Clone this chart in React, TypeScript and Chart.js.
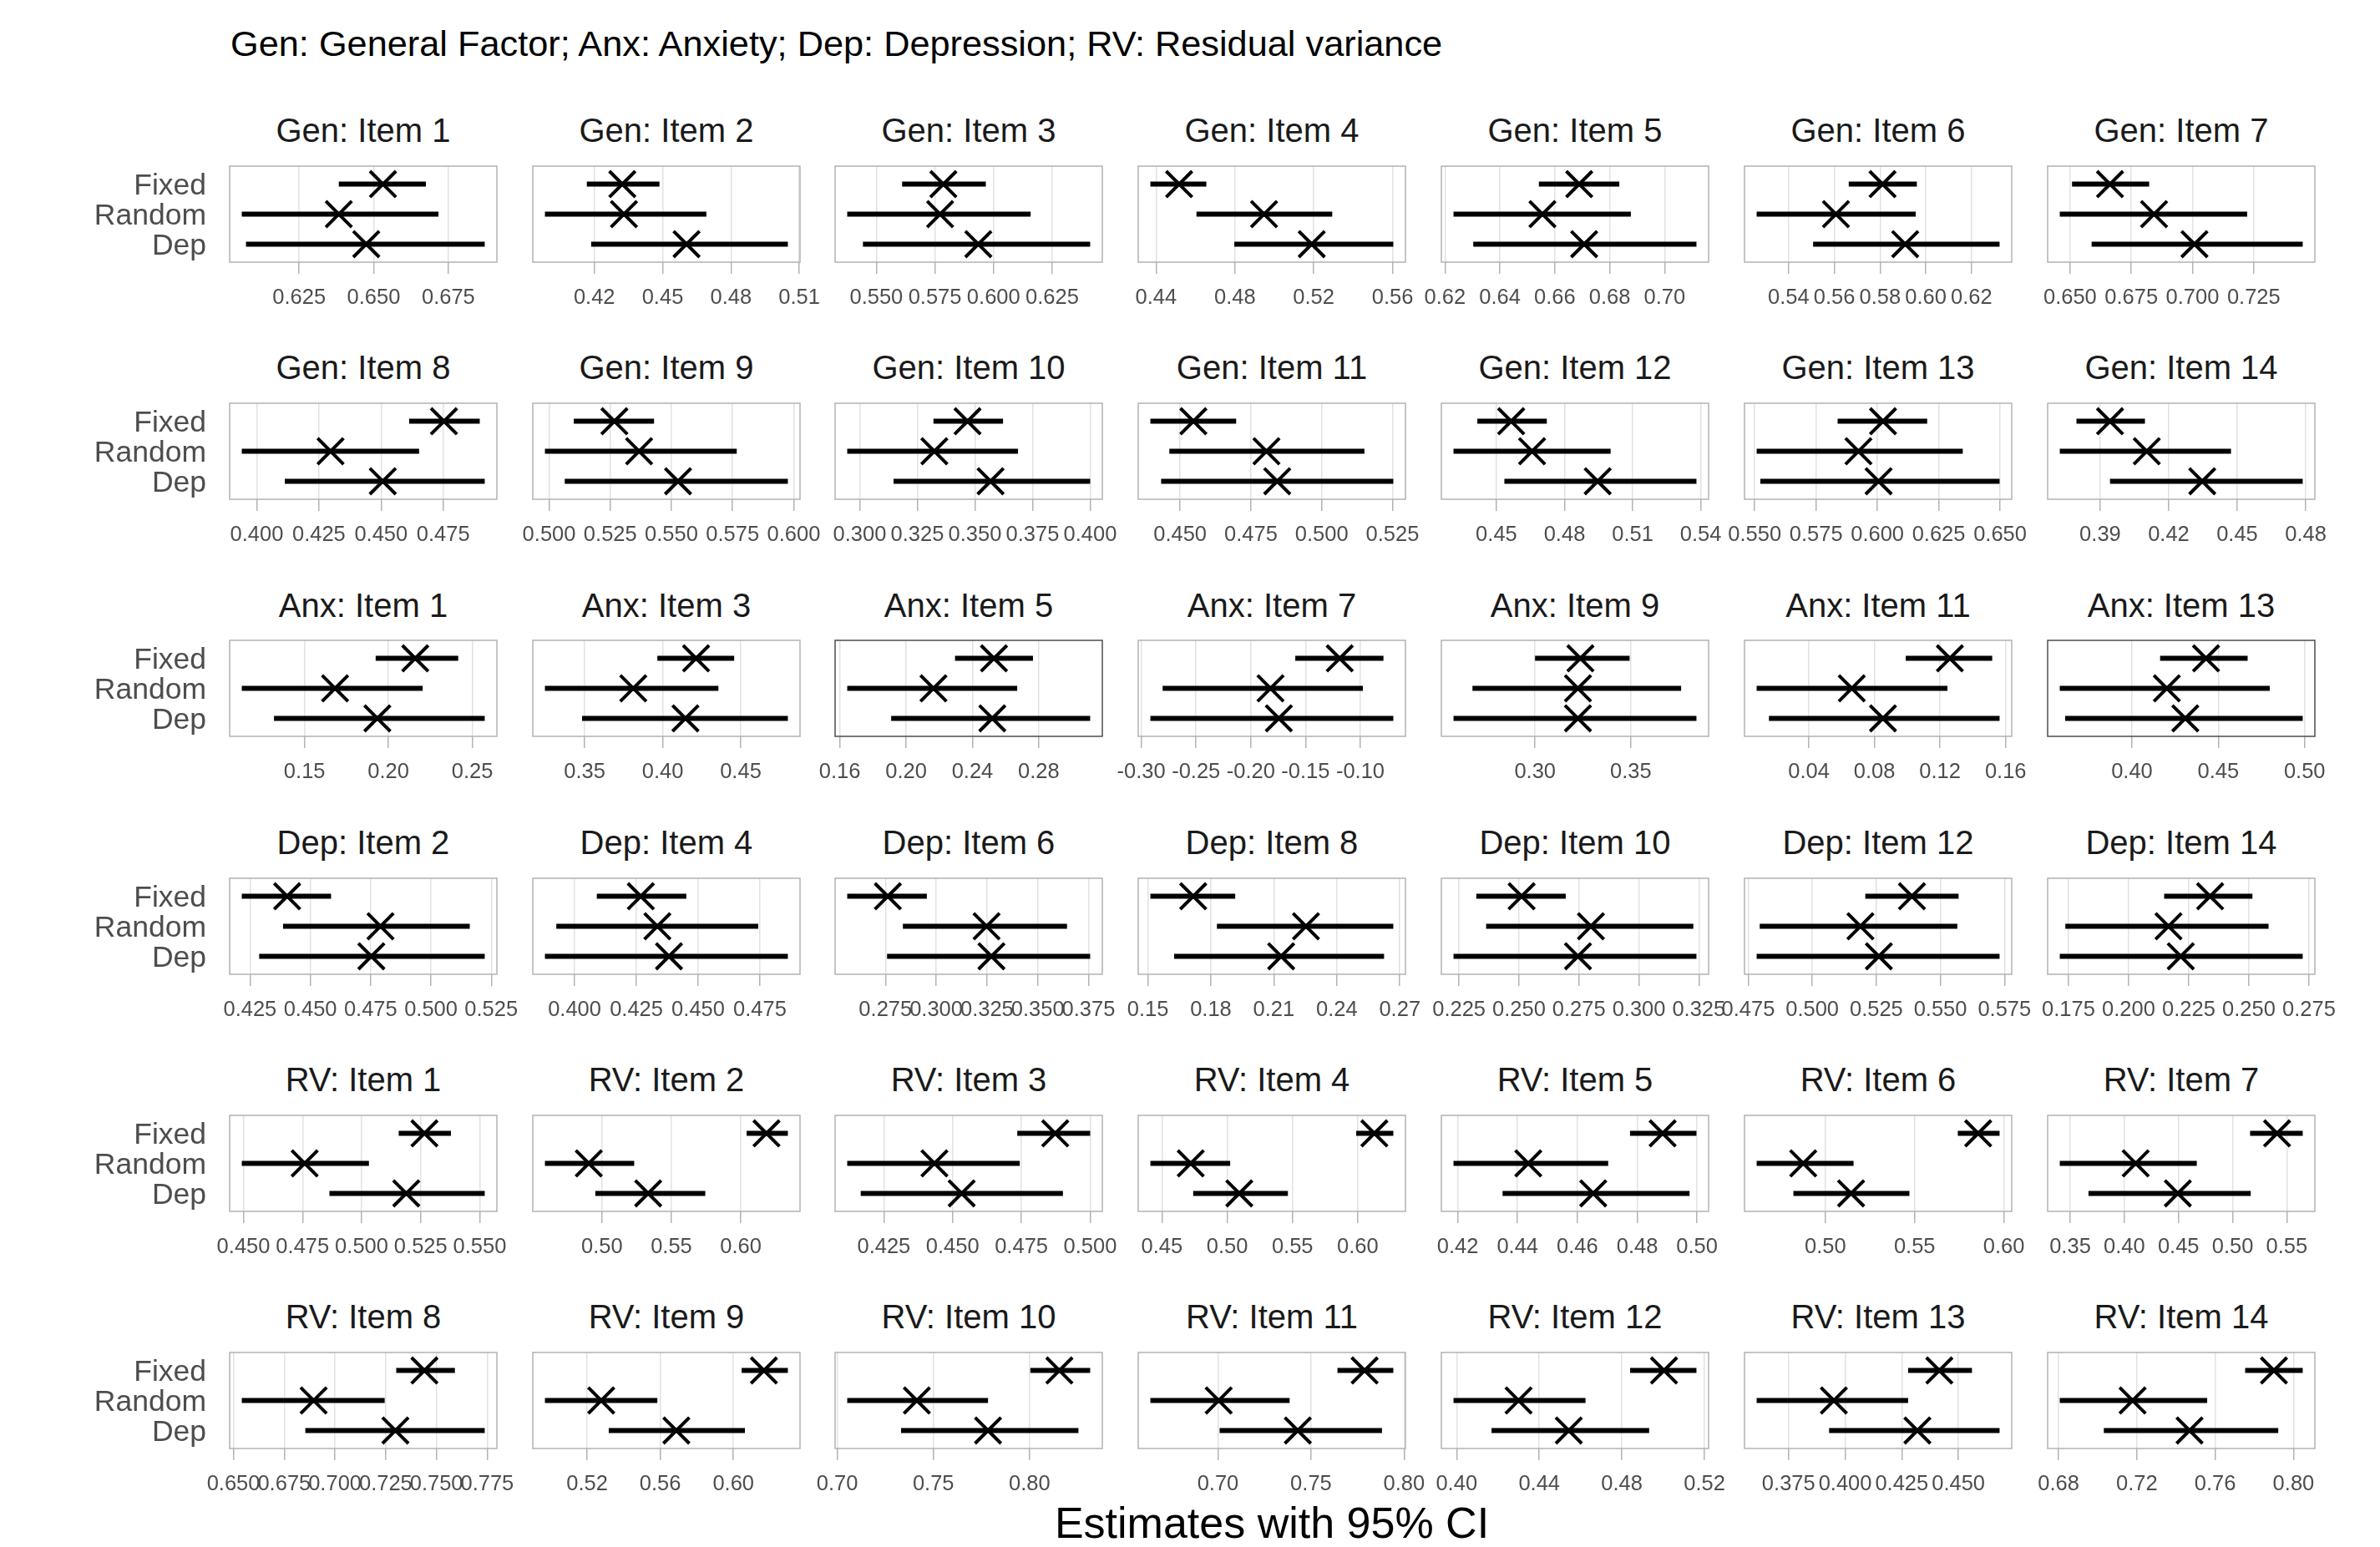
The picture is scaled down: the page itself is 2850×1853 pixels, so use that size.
import React, { useEffect, useRef } from "react";
import { Chart, registerables } from "chart.js";

Chart.register(...registerables);

// ---------------- DATA ----------------
const caption = "Gen: General Factor; Anx: Anxiety; Dep: Depression; RV: Residual variance";
const xAxisTitle = "Estimates with 95% CI";
const methods = ["Fixed", "Random", "Dep"];

const panelTitles = [
  "Gen: Item 1", "Gen: Item 2", "Gen: Item 3", "Gen: Item 4", "Gen: Item 5", "Gen: Item 6", "Gen: Item 7",
  "Gen: Item 8", "Gen: Item 9", "Gen: Item 10", "Gen: Item 11", "Gen: Item 12", "Gen: Item 13", "Gen: Item 14",
  "Anx: Item 1", "Anx: Item 3", "Anx: Item 5", "Anx: Item 7", "Anx: Item 9", "Anx: Item 11", "Anx: Item 13",
  "Dep: Item 2", "Dep: Item 4", "Dep: Item 6", "Dep: Item 8", "Dep: Item 10", "Dep: Item 12", "Dep: Item 14",
  "RV: Item 1", "RV: Item 2", "RV: Item 3", "RV: Item 4", "RV: Item 5", "RV: Item 6", "RV: Item 7",
  "RV: Item 8", "RV: Item 9", "RV: Item 10", "RV: Item 11", "RV: Item 12", "RV: Item 13", "RV: Item 14",
];

const fixedLo = [
  0.6383, 0.4167, 0.5610, 0.4371, 0.6542, 0.5663, 0.6508,
  0.4613, 0.5101, 0.3320, 0.4395, 0.4416, 0.5838, 0.3796,
  0.1924, 0.3966, 0.2295, -0.1594, 0.3000, 0.0991, 0.4163,
  0.4216, 0.4090, 0.2562, 0.1512, 0.2322, 0.5207, 0.2148,
  0.5157, 0.6042, 0.4735, 0.5988, 0.4776, 0.5742, 0.5161,
  0.7302, 0.6045, 0.8004, 0.7642, 0.4840, 0.4278, 0.7753,
];
const fixedEst = [
  0.6531, 0.4323, 0.5786, 0.4517, 0.6689, 0.5811, 0.6663,
  0.4753, 0.5267, 0.3468, 0.4547, 0.4565, 0.6023, 0.3943,
  0.2160, 0.4214, 0.2530, -0.1188, 0.3237, 0.1260, 0.4429,
  0.4404, 0.4268, 0.2762, 0.1716, 0.2511, 0.5389, 0.2339,
  0.5266, 0.6185, 0.4873, 0.6127, 0.4885, 0.5856, 0.5410,
  0.7441, 0.6167, 0.8155, 0.7788, 0.5004, 0.4416, 0.7900,
];
const fixedHi = [
  0.6675, 0.4486, 0.5967, 0.4655, 0.6835, 0.5961, 0.6823,
  0.4897, 0.5429, 0.3622, 0.4698, 0.4722, 0.6203, 0.4096,
  0.2416, 0.4458, 0.2765, -0.0789, 0.3494, 0.1518, 0.4670,
  0.4586, 0.4452, 0.2954, 0.1916, 0.2695, 0.5571, 0.2515,
  0.5378, 0.6339, 0.5000, 0.6272, 0.4998, 0.5976, 0.5647,
  0.7591, 0.6298, 0.8315, 0.7942, 0.5161, 0.4560, 0.8047,
];

const randomLo = [
  0.6058, 0.3983, 0.5376, 0.4605, 0.6231, 0.5260, 0.6458,
  0.3940, 0.4983, 0.2946, 0.4462, 0.4311, 0.5508, 0.3723,
  0.1126, 0.3246, 0.1645, -0.2805, 0.2673, 0.0082, 0.3582,
  0.4387, 0.3926, 0.2836, 0.1829, 0.2363, 0.4795, 0.1737,
  0.4493, 0.4589, 0.4117, 0.4412, 0.4186, 0.4615, 0.3404,
  0.6541, 0.4969, 0.7052, 0.6637, 0.3985, 0.3609, 0.6806,
];
const randomEst = [
  0.6383, 0.4330, 0.5772, 0.4948, 0.6555, 0.5607, 0.6843,
  0.4297, 0.5368, 0.3324, 0.4805, 0.4657, 0.5923, 0.4104,
  0.1682, 0.3812, 0.2165, -0.1820, 0.3224, 0.0662, 0.4202,
  0.4791, 0.4335, 0.3248, 0.2253, 0.2800, 0.5188, 0.2166,
  0.4759, 0.4905, 0.4434, 0.4721, 0.4436, 0.4876, 0.4105,
  0.6895, 0.5277, 0.7414, 0.7004, 0.4300, 0.3950, 0.7178,
];
const randomHi = [
  0.6717, 0.4692, 0.6158, 0.5294, 0.6877, 0.5956, 0.7223,
  0.4653, 0.5767, 0.3687, 0.5151, 0.5003, 0.6348, 0.4473,
  0.2204, 0.4357, 0.2670, -0.0977, 0.3763, 0.1245, 0.4798,
  0.5161, 0.4743, 0.3644, 0.2669, 0.3227, 0.5566, 0.2582,
  0.5031, 0.5232, 0.4744, 0.5023, 0.4703, 0.5158, 0.4669,
  0.7245, 0.5584, 0.7784, 0.7385, 0.4624, 0.4278, 0.7559,
];

const depLo = [
  0.6072, 0.4186, 0.5443, 0.4797, 0.6303, 0.5507, 0.6588,
  0.4113, 0.5064, 0.3147, 0.4433, 0.4535, 0.5523, 0.3943,
  0.1318, 0.3484, 0.1910, -0.2917, 0.2574, 0.0157, 0.3613,
  0.4288, 0.3880, 0.2758, 0.1625, 0.2227, 0.4783, 0.1714,
  0.4864, 0.4952, 0.4166, 0.4740, 0.4350, 0.4821, 0.3669,
  0.6854, 0.5318, 0.7332, 0.7009, 0.4169, 0.3929, 0.7031,
];
const depEst = [
  0.6475, 0.4605, 0.5935, 0.5190, 0.6707, 0.5910, 0.7008,
  0.4507, 0.5527, 0.3568, 0.4843, 0.4946, 0.6005, 0.4347,
  0.1934, 0.4146, 0.2520, -0.1744, 0.3224, 0.0852, 0.4309,
  0.4753, 0.4382, 0.3272, 0.2135, 0.2746, 0.5260, 0.2217,
  0.5189, 0.5333, 0.4533, 0.5093, 0.4653, 0.5144, 0.4494,
  0.7298, 0.5688, 0.7784, 0.7429, 0.4543, 0.4319, 0.7469,
];
const depHi = [
  0.6872, 0.5050, 0.6412, 0.5604, 0.7116, 0.6323, 0.7450,
  0.4917, 0.5976, 0.4000, 0.5253, 0.5381, 0.6498, 0.4787,
  0.2574, 0.4802, 0.3110, -0.0699, 0.3843, 0.1563, 0.4989,
  0.5223, 0.4863, 0.3758, 0.2625, 0.3240, 0.5731, 0.2724,
  0.5521, 0.5744, 0.4901, 0.5465, 0.4975, 0.5471, 0.5167,
  0.7738, 0.6063, 0.8254, 0.7881, 0.4932, 0.4682, 0.7922,
];

const tickLabels: string[][] = [
  ["0.625", "0.650", "0.675"], ["0.42", "0.45", "0.48", "0.51"], ["0.550", "0.575", "0.600", "0.625"],
  ["0.44", "0.48", "0.52", "0.56"], ["0.62", "0.64", "0.66", "0.68", "0.70"], ["0.54", "0.56", "0.58", "0.60", "0.62"],
  ["0.650", "0.675", "0.700", "0.725"],
  ["0.400", "0.425", "0.450", "0.475"], ["0.500", "0.525", "0.550", "0.575", "0.600"],
  ["0.300", "0.325", "0.350", "0.375", "0.400"], ["0.450", "0.475", "0.500", "0.525"],
  ["0.45", "0.48", "0.51", "0.54"], ["0.550", "0.575", "0.600", "0.625", "0.650"], ["0.39", "0.42", "0.45", "0.48"],
  ["0.15", "0.20", "0.25"], ["0.35", "0.40", "0.45"], ["0.16", "0.20", "0.24", "0.28"],
  ["-0.30", "-0.25", "-0.20", "-0.15", "-0.10"], ["0.30", "0.35"], ["0.04", "0.08", "0.12", "0.16"],
  ["0.40", "0.45", "0.50"],
  ["0.425", "0.450", "0.475", "0.500", "0.525"], ["0.400", "0.425", "0.450", "0.475"],
  ["0.275", "0.300", "0.325", "0.350", "0.375"], ["0.15", "0.18", "0.21", "0.24", "0.27"],
  ["0.225", "0.250", "0.275", "0.300", "0.325"], ["0.475", "0.500", "0.525", "0.550", "0.575"],
  ["0.175", "0.200", "0.225", "0.250", "0.275"],
  ["0.450", "0.475", "0.500", "0.525", "0.550"], ["0.50", "0.55", "0.60"], ["0.425", "0.450", "0.475", "0.500"],
  ["0.45", "0.50", "0.55", "0.60"], ["0.42", "0.44", "0.46", "0.48", "0.50"], ["0.50", "0.55", "0.60"],
  ["0.35", "0.40", "0.45", "0.50", "0.55"],
  ["0.650", "0.675", "0.700", "0.725", "0.750", "0.775"], ["0.52", "0.56", "0.60"], ["0.70", "0.75", "0.80"],
  ["0.70", "0.75", "0.80"], ["0.40", "0.44", "0.48", "0.52"], ["0.375", "0.400", "0.425", "0.450"],
  ["0.68", "0.72", "0.76", "0.80"],
];

const darkBorderPanels = ["Anx: Item 5", "Anx: Item 13"];

// ---------------- LAYOUT / STYLE ----------------
const FONT = '"Liberation Sans", Arial, Helvetica, sans-serif';
const NCOL = 7;
const PANEL_LEFT0 = 274.6;
const PITCH_X = 362.9;
const PANEL_TOP0 = 198.7;
const PITCH_Y = 284.3;
const PANEL_W = 320;
const PANEL_H = 115;
const PAD_SIDE = 48;
const PAD_TOP = 4;
const X_AXIS_H = 76;
const Y_AXIS_W = 250;

const colLeft = (c: number) => Math.round(PANEL_LEFT0 + c * PITCH_X);
const rowTop = (r: number) => Math.round(PANEL_TOP0 + r * PITCH_Y);

const boxPlugin = {
  id: "panelBox",
  afterDraw(chart: any, _args: any, opts: any) {
    const { ctx, chartArea: a } = chart;
    ctx.save();
    ctx.strokeStyle = opts.color;
    ctx.lineWidth = opts.width;
    ctx.strokeRect(a.left, a.top, a.right - a.left, a.bottom - a.top);
    ctx.restore();
  },
};

function Panel({ index }: { index: number }) {
  const ref = useRef<HTMLCanvasElement>(null);
  const col = index % NCOL;
  const row = Math.floor(index / NCOL);
  const yW = col === 0 ? Y_AXIS_W : 0;
  const cw = PAD_SIDE * 2 + yW + PANEL_W;
  const ch = PAD_TOP + PANEL_H + X_AXIS_H;
  const left = colLeft(col) - PAD_SIDE - yW;
  const top = rowTop(row) - PAD_TOP;

  useEffect(() => {
    if (!ref.current) return;
    const lo = [fixedLo[index], randomLo[index], depLo[index]];
    const hi = [fixedHi[index], randomHi[index], depHi[index]];
    const est = [fixedEst[index], randomEst[index], depEst[index]];
    const dmin = Math.min(...lo, ...est);
    const dmax = Math.max(...hi, ...est);
    const span = dmax - dmin;
    const xmin = dmin - 0.05 * span;
    const xmax = dmax + 0.05 * span;
    const labels = tickLabels[index];
    const yPos = (i: number) => methods.length - i; // Fixed=3, Random=2, Dep=1

    const intervalSets = methods.map((m, i) => ({
      label: m,
      data: [
        { x: lo[i], y: yPos(i) },
        { x: hi[i], y: yPos(i) },
      ],
      showLine: true,
      borderColor: "#000000",
      borderWidth: 6,
      borderCapStyle: "butt",
      pointRadius: 0,
      pointHoverRadius: 0,
    }));
    const pointSet = {
      label: "Estimate",
      data: est.map((e, i) => ({ x: e, y: yPos(i) })),
      showLine: false,
      pointStyle: "crossRot",
      pointRadius: 22,
      pointHoverRadius: 22,
      pointBorderWidth: 4,
      borderColor: "#000000",
      backgroundColor: "rgba(0,0,0,0)",
    };

    const chart = new Chart(ref.current, {
      type: "scatter",
      data: { datasets: [...intervalSets, pointSet] as any },
      plugins: [boxPlugin],
      options: {
        responsive: false,
        maintainAspectRatio: false,
        animation: false,
        events: [],
        layout: {
          autoPadding: false,
          padding: { left: PAD_SIDE, right: PAD_SIDE, top: PAD_TOP, bottom: 0 },
        },
        plugins: {
          legend: { display: false },
          tooltip: { enabled: false },
          panelBox: {
            color: darkBorderPanels.includes(panelTitles[index]) ? "#4d4d4d" : "#b3b3b3",
            width: 1.5,
          },
        } as any,
        scales: {
          x: {
            type: "linear",
            bounds: "data",
            min: xmin,
            max: xmax,
            afterBuildTicks: (s: any) => {
              s.ticks = labels.map((t) => ({ value: parseFloat(t) }));
            },
            afterFit: (s: any) => {
              s.height = X_AXIS_H;
              s.paddingLeft = 0;
              s.paddingRight = 0;
            },
            ticks: {
              autoSkip: false,
              maxRotation: 0,
              minRotation: 0,
              padding: 14,
              color: "#4d4d4d",
              font: { family: FONT, size: 25.5 },
              callback: (_v: any, i: number) => labels[i],
            },
            grid: {
              color: "#e2e2e2",
              lineWidth: 1.5,
              drawTicks: true,
              tickLength: 14,
              tickColor: "#b3b3b3",
              tickWidth: 1.5,
            },
            border: { display: false },
          },
          y: {
            type: "linear",
            bounds: "data",
            display: col === 0,
            min: 0.4,
            max: 3.6,
            afterBuildTicks: (s: any) => {
              s.ticks = methods.map((_m, i) => ({ value: yPos(i) }));
            },
            afterFit: (s: any) => {
              s.width = yW;
              s.paddingTop = 0;
              s.paddingBottom = 0;
            },
            ticks: {
              autoSkip: false,
              padding: 28,
              labelOffset: 3,
              color: "#4d4d4d",
              font: { family: FONT, size: 35.5 },
              callback: (v: any) => methods[methods.length - Number(v)],
            },
            grid: { display: false, drawTicks: false, tickLength: 0 },
            border: { display: false },
          },
        },
      } as any,
    });
    return () => chart.destroy();
  }, [index]);

  return (
    <canvas
      ref={ref}
      width={cw}
      height={ch}
      style={{ position: "absolute", left, top, width: cw, height: ch }}
    />
  );
}

function PanelTitle({ index }: { index: number }) {
  const col = index % NCOL;
  const row = Math.floor(index / NCOL);
  const fs = 40;
  const cx = colLeft(col) + PANEL_W / 2;
  const cy = 155.3 + row * PITCH_Y;
  return (
    <div
      style={{
        position: "absolute",
        left: cx - 200,
        width: 400,
        top: cy - 0.56 * fs,
        textAlign: "center",
        fontFamily: FONT,
        fontSize: fs,
        lineHeight: `${Math.round(fs * 1.15)}px`,
        color: "#1a1a1a",
        whiteSpace: "nowrap",
      }}
    >
      {panelTitles[index]}
    </div>
  );
}

export default function App() {
  const capFs = 43.3;
  const axFs = 52;
  return (
    <div
      style={{
        position: "absolute",
        left: 0,
        top: 0,
        width: 2850,
        height: 1853,
        background: "#ffffff",
        overflow: "hidden",
      }}
    >
      <div
        style={{
          position: "absolute",
          left: 276,
          top: 51 - 0.56 * capFs,
          fontFamily: FONT,
          fontSize: capFs,
          lineHeight: `${Math.round(capFs * 1.15)}px`,
          color: "#000000",
          whiteSpace: "nowrap",
        }}
      >
        {caption}
      </div>
      {panelTitles.map((_t, i) => (
        <PanelTitle key={"t" + i} index={i} />
      ))}
      {panelTitles.map((_t, i) => (
        <Panel key={"p" + i} index={i} />
      ))}
      <div
        style={{
          position: "absolute",
          left: 1523 - 600,
          width: 1200,
          top: 1823 - 0.56 * axFs,
          textAlign: "center",
          fontFamily: FONT,
          fontSize: axFs,
          lineHeight: `${Math.round(axFs * 1.15)}px`,
          color: "#000000",
          whiteSpace: "nowrap",
        }}
      >
        {xAxisTitle}
      </div>
    </div>
  );
}
